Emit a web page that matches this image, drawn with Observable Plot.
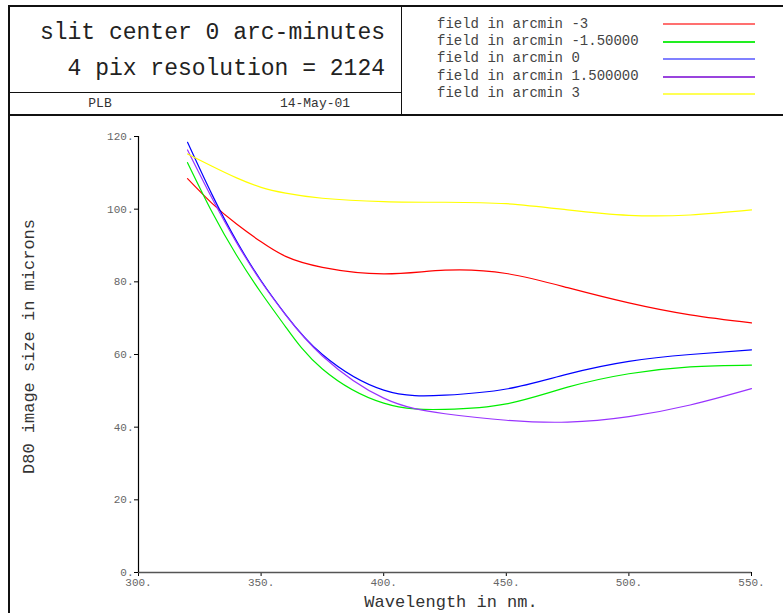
<!DOCTYPE html>
<html><head><meta charset="utf-8">
<script src="https://cdn.jsdelivr.net/npm/d3@7"></script>
<script src="https://cdn.jsdelivr.net/npm/@observablehq/plot@0.6"></script>
<style>
body{margin:0;background:#fff;}
#wrap{position:relative;width:783px;height:613px;overflow:hidden;font-family:"Liberation Mono",monospace;background:#fff;}
.ab{position:absolute;white-space:pre;}
.hl{position:absolute;background:#111;}
#plot{position:absolute;left:0;top:115px;}
</style></head><body>
<div id="wrap">
  <div class="hl" style="left:8px;top:5px;width:775px;height:1.5px"></div>
  <div class="hl" style="left:8px;top:5px;width:1.5px;height:608px"></div>
  <div class="hl" style="left:8px;top:92px;width:393px;height:1px"></div>
  <div class="hl" style="left:401px;top:5px;width:1px;height:110px"></div>
  <div class="hl" style="left:8px;top:114px;width:775px;height:1.5px"></div>
  <div class="ab" id="t1" style="right:398px;top:22px;font-size:23px;line-height:23px;color:#222"></div>
  <div class="ab" id="t2" style="right:398px;top:58px;font-size:23px;line-height:23px;color:#222"></div>
  <div class="ab" id="t3" style="left:100px;top:97px;font-size:13px;line-height:13px;color:#333;transform:translateX(-50%)"></div>
  <div class="ab" id="t4" style="left:315px;top:97px;font-size:13px;line-height:13px;color:#333;transform:translateX(-50%)"></div>
  <div id="legend"></div>
  <div id="plot"></div>
</div>
<script>
const titleLine1 = "slit center 0 arc-minutes";
const titleLine2 = "4 pix resolution = 2124";
const author = "PLB";
const dateText = "14-May-01";
const xLabel = "Wavelength in nm.";
const yLabel = "D80 image size in microns";

const wavelengths = [320, 330, 340, 350, 360, 375, 400, 425, 450, 475, 500, 525, 550];
const fieldM3  = [108.4, 101.6, 95.9, 91.0, 87.0, 84.0, 82.2, 83.2, 82.3, 78.4, 74.2, 70.9, 68.7];
const fieldM15 = [112.8, 99.2, 87.3, 77.0, 67.6, 56.0, 46.6, 44.9, 46.4, 51.0, 54.7, 56.6, 57.1];
const field0   = [118.4, 104.0, 91.2, 80.3, 71.0, 60.0, 50.2, 48.8, 50.5, 54.6, 58.1, 60.0, 61.3];
const fieldP15 = [116.3, 103.0, 90.8, 80.1, 70.9, 59.6, 48.0, 43.7, 41.9, 41.4, 42.9, 46.1, 50.6];
const fieldP3  = [115.2, 111.8, 108.6, 106.0, 104.4, 103.0, 102.1, 101.9, 101.5, 99.8, 98.3, 98.4, 99.8];

const seriesLabels = ["field in arcmin -3", "field in arcmin -1.50000", "field in arcmin 0", "field in arcmin 1.500000", "field in arcmin 3"];
const seriesColors = ["#ff0000", "#00ee00", "#0000ff", "#9933ff", "#ffff00"];
const legendColors = ["#ff7070", "#22ee22", "#8080ff", "#9944dd", "#ffff55"];
const seriesValues = [fieldM3, fieldM15, field0, fieldP15, fieldP3];

const xTicks = [300, 350, 400, 450, 500, 550];
const yTicks = [0, 20, 40, 60, 80, 100, 120];

document.getElementById("t1").textContent = titleLine1;
document.getElementById("t2").textContent = titleLine2;
document.getElementById("t3").textContent = author;
document.getElementById("t4").textContent = dateText;

const leg = document.getElementById("legend");
const legendLineTops = [23, 41, 58, 76, 93];
seriesLabels.forEach((lab, i) => {
  const t = document.createElement("div");
  t.className = "ab";
  t.style.cssText = `left:437px;top:${15.6 + i*17.35}px;font-size:14px;line-height:17px;color:#444`;
  t.textContent = lab;
  leg.appendChild(t);
  const l = document.createElement("div");
  l.className = "hl";
  l.style.cssText = `left:663px;top:${legendLineTops[i]}px;width:92px;height:2px;background:${legendColors[i]}`;
  leg.appendChild(l);
});

const data = [];
seriesLabels.forEach((lab, i) => {
  wavelengths.forEach((w, j) => data.push({w, d: seriesValues[i][j], s: lab}));
});

const chart = Plot.plot({
  width: 783, height: 498,
  marginLeft: 138, marginRight: 32, marginTop: 21, marginBottom: 41,
  style: {fontFamily: '"Liberation Mono", monospace', background: "transparent", overflow: "visible"},
  x: {domain: [300, 550]},
  y: {domain: [0, 120]},
  color: {domain: seriesLabels, range: seriesColors},
  marks: [
    Plot.axisX({ticks: xTicks, tickSize: 4, tickPadding: 2, tickFormat: d => d + ".", fontSize: 11, color: "#666", stroke: "#000", label: null}),
    Plot.axisY({ticks: yTicks, tickSize: 4, tickPadding: 1, tickFormat: d => d + ".", fontSize: 11, color: "#666", stroke: "#000", label: null}),
    Plot.ruleY([0], {stroke: "#555", strokeWidth: 1.3}),
    Plot.ruleX([300], {stroke: "#000", strokeWidth: 1.2}),
    Plot.line(data, {x: "w", y: "d", z: "s", stroke: "s", curve: "natural", strokeWidth: 1.2}),
    Plot.text([xLabel], {frameAnchor: "bottom", dy: 34, dx: 6, fontSize: 17, fill: "#333"}),
    Plot.text([yLabel], {frameAnchor: "left", textAnchor: "middle", rotate: -90, dx: -110, dy: -8, fontSize: 17, fill: "#333"})
  ]
});
document.getElementById("plot").appendChild(chart);
</script>
</body></html>
